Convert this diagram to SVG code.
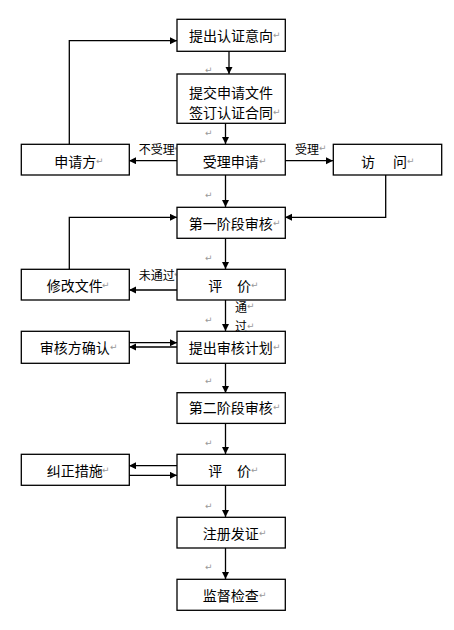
<svg xmlns="http://www.w3.org/2000/svg" width="454" height="630" viewBox="0 0 454 630">
<defs>
<marker id="ah" markerUnits="userSpaceOnUse" markerWidth="8" markerHeight="8" refX="7" refY="3.5" orient="auto">
<path d="M0,0 L7,3.5 L0,7 z" fill="#000"/>
</marker>
<style>
.box{fill:#fff;stroke:#000;stroke-width:1.3}
.t{font-family:"Noto Sans CJK SC","Liberation Sans",sans-serif;font-size:14px;fill:#000;dominant-baseline:central}
.l{font-family:"Noto Sans CJK SC","Liberation Sans",sans-serif;font-size:12px;fill:#000;dominant-baseline:central}
.p{font-family:"DejaVu Sans",sans-serif;font-size:9px;fill:#999;dominant-baseline:central}
.c{fill:none;stroke:#000;stroke-width:1.3}
.a{marker-end:url(#ah)}
</style>
</defs>
<rect width="454" height="630" fill="#fff"/>
<g id="connectors">
<polyline class="c a" points="69.3,144 69.3,40.7 177,40.7"/>
<line class="c a" x1="229" y1="51" x2="229" y2="74"/>
<line class="c a" x1="225.5" y1="123" x2="225.5" y2="144"/>
<line class="c a" x1="177" y1="160.7" x2="129" y2="160.7"/>
<line class="c a" x1="285" y1="160.7" x2="333" y2="160.7"/>
<line class="c a" x1="225.5" y1="175" x2="225.5" y2="207"/>
<polyline class="c a" points="385.7,175 385.7,217.3 285,217.3"/>
<polyline class="c a" points="69.3,269 69.3,217.3 177,217.3"/>
<line class="c a" x1="225.5" y1="238" x2="225.5" y2="269"/>
<line class="c a" x1="177" y1="290" x2="129" y2="290"/>
<line class="c a" x1="225.5" y1="300" x2="225.5" y2="331"/>
<line class="c a" x1="129" y1="342.7" x2="177" y2="342.7"/>
<line class="c a" x1="177" y1="347" x2="129" y2="347"/>
<line class="c a" x1="225.5" y1="363" x2="225.5" y2="393"/>
<line class="c a" x1="225.5" y1="423" x2="225.5" y2="454"/>
<line class="c a" x1="177" y1="465.7" x2="129" y2="465.7"/>
<line class="c a" x1="129" y1="475.3" x2="177" y2="475.3"/>
<line class="c a" x1="225.5" y1="485" x2="225.5" y2="517"/>
<line class="c a" x1="225.5" y1="548" x2="225.5" y2="579"/>
<text class="l" x="138.7" y="148.3">不受理</text><text class="p" x="174" y="148.3">↵</text>
<text class="l" x="295" y="148.3">受理</text><text class="p" x="319" y="148.3">↵</text>
<text class="l" x="138.7" y="274">未通过</text><text class="p" x="174" y="274">↵</text>
<text class="l" x="235" y="306">通</text><text class="p" x="247" y="306">↵</text>
<text class="l" x="235" y="325.7">过</text><text class="p" x="247" y="325.7">↵</text>
</g>
<g id="marks">
<text class="p" x="205" y="70">↵</text>
<text class="p" x="205" y="133.3">↵</text>
<text class="p" x="205" y="195">↵</text>
<text class="p" x="205" y="258.3">↵</text>
<text class="p" x="205" y="320">↵</text>
<text class="p" x="205" y="380.7">↵</text>
<text class="p" x="205" y="443.3">↵</text>
<text class="p" x="205" y="506">↵</text>
<text class="p" x="205" y="567.3">↵</text>
</g>
<g id="n1"><rect class="box" x="177" y="19.3" width="108.3" height="32"/><text class="t" x="189" y="35">提出认证意向</text><text class="p" x="273" y="35">↵</text></g>
<g id="n2"><rect class="box" x="177" y="74" width="108.3" height="49.3"/><text class="t" x="189" y="92">提交申请文件</text><text class="t" x="189" y="112.3">签订认证合同</text><text class="p" x="273" y="112.3">↵</text></g>
<g id="n3"><rect class="box" x="177" y="144.3" width="108.3" height="30.7"/><text class="t" x="202.7" y="160.7">受理申请</text><text class="p" x="259" y="160.7">↵</text></g>
<g id="n4"><rect class="box" x="21.3" y="144.3" width="108" height="30.7"/><text class="t" x="54.3" y="160.7">申请方</text><text class="p" x="96" y="160.7">↵</text></g>
<g id="n5"><rect class="box" x="333.3" y="144.3" width="108.4" height="30.7"/><text class="t" x="361" y="160.7">访</text><text class="t" x="393" y="160.7">问</text><text class="p" x="407" y="160.7">↵</text></g>
<g id="n6"><rect class="box" x="177" y="207.3" width="108.3" height="31"/><text class="t" x="188.7" y="223.3">第一阶段审核</text><text class="p" x="273" y="223.3">↵</text></g>
<g id="n7"><rect class="box" x="177" y="269.3" width="108.3" height="30.7"/><text class="t" x="208.3" y="285">评</text><text class="t" x="237" y="285">价</text><text class="p" x="251" y="285">↵</text></g>
<g id="n8"><rect class="box" x="21.3" y="269.3" width="108" height="30.7"/><text class="t" x="46.7" y="285">修改文件</text><text class="p" x="102" y="285">↵</text></g>
<g id="n9"><rect class="box" x="177" y="331.3" width="108.3" height="32"/><text class="t" x="188.7" y="346.7">提出审核计划</text><text class="p" x="273" y="346.7">↵</text></g>
<g id="n10"><rect class="box" x="21.3" y="331.3" width="108" height="32"/><text class="t" x="39.7" y="346.7">审核方确认</text><text class="p" x="110" y="346.7">↵</text></g>
<g id="n11"><rect class="box" x="177" y="392.7" width="108.3" height="30.7"/><text class="t" x="188.7" y="407.3">第二阶段审核</text><text class="p" x="273" y="407.3">↵</text></g>
<g id="n12"><rect class="box" x="177" y="454.3" width="108.3" height="31"/><text class="t" x="208.3" y="470">评</text><text class="t" x="237" y="470">价</text><text class="p" x="251" y="470">↵</text></g>
<g id="n13"><rect class="box" x="21.3" y="454.3" width="108" height="31"/><text class="t" x="46.7" y="470">纠正措施</text><text class="p" x="102" y="470">↵</text></g>
<g id="n14"><rect class="box" x="177" y="517.3" width="108.3" height="30.7"/><text class="t" x="202.7" y="533">注册发证</text><text class="p" x="259" y="533">↵</text></g>
<g id="n15"><rect class="box" x="177" y="579.3" width="108.3" height="31"/><text class="t" x="202.7" y="595">监督检查</text><text class="p" x="259" y="595">↵</text></g>
</svg>
